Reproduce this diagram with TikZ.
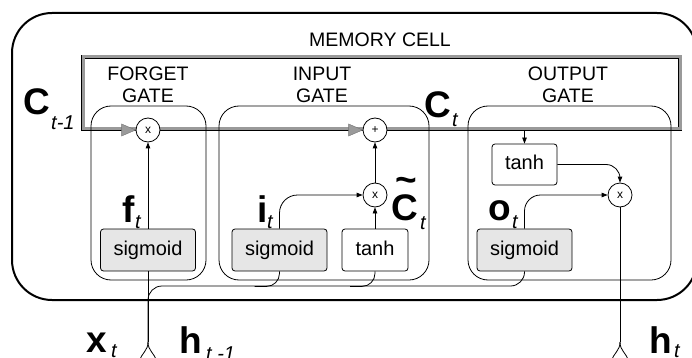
\documentclass[tikz,border=0pt]{standalone}
\usepackage{fontspec}
\setmainfont{Liberation Sans}
\usetikzlibrary{arrows.meta,calc}
\definecolor{sigfill}{HTML}{E6E6E6}
\definecolor{cellgray}{HTML}{9A9A9A}

\begin{document}
\begin{tikzpicture}[x=1pt,y=-1pt,
  conn/.style={line width=0.8pt},
  arr/.style={-{Triangle[length=6pt,width=4.5pt]}},
  cellborder/.style={draw=black,line width=0.9pt,double=cellgray,double distance=3pt},
  gatebox/.style={draw,line width=0.8pt,rounded corners=20,inner sep=0,fill=none},
  hdr/.style={font=\fontsize{19.5}{22}\selectfont,align=center,inner sep=0},
  fnbox/.style={draw,line width=0.8pt,rounded corners=3,inner sep=0,
    text height=14,text depth=4,font=\fontsize{20}{20}\selectfont},
  sigbox/.style={fnbox,fill=sigfill,minimum width=95,minimum height=42},
  tanhbox/.style={fnbox,fill=white,minimum width=66,minimum height=42},
  op/.style={circle,draw,fill=white,line width=0.8pt,minimum size=24,inner sep=0,
    font=\fontsize{12}{12}\selectfont},
  bigl/.style={font=\fontsize{37}{37}\selectfont\bfseries,inner sep=0,anchor=base west},
  subl/.style={font=\fontsize{20}{20}\selectfont\itshape,inner sep=0,anchor=base west},
  cellarrow/.style={fill=cellgray,draw=black!55,line width=0.4pt}
]
\useasboundingbox (0,0) rectangle (692,358);
\begin{scope}
\clip (0,0) rectangle (692,358);

% outer frame
\draw[line width=2pt,rounded corners=40] (12,13) rectangle (697,300);

% memory cell (its lower edge carries the cell state)
\draw[cellborder] (83,57) rectangle (680,129);
\node[hdr] (mclabel) at (380,40) {MEMORY CELL};

% gates
\node[gatebox,minimum width=115,minimum height=174] (fgate) at (148.5,193) {};
\node[gatebox,minimum width=210,minimum height=174] (igate) at (324,193) {};
\node[gatebox,minimum width=203,minimum height=174] (ogate) at (569.5,193) {};
\node[hdr] (fhdr) at (148,85) {FORGET\\GATE};
\node[hdr] (ihdr) at (322,85) {INPUT\\GATE};
\node[hdr] (ohdr) at (568,85) {OUTPUT\\GATE};

% pointwise operations
\node[op] (fx) at (148,130) {x};
\node[op] (plus) at (375,130) {+};
\node[op] (ix) at (375,195) {x};
\node[op] (ox) at (620,195) {x};

% gray heads of the cell state line
\fill[cellarrow] ($(fx.west)+(-14,-6)$) -- (fx.west) -- ($(fx.west)+(-14,6)$) -- cycle;
\fill[cellarrow] ($(plus.west)+(-14,-6)$) -- (plus.west) -- ($(plus.west)+(-14,6)$) -- cycle;

% activation boxes
\node[sigbox] (fsig) at (148,250) {sigmoid};
\node[sigbox] (isig) at (279.5,250) {sigmoid};
\node[tanhbox] (itanh) at (375,250) {tanh};
\node[sigbox] (osig) at (524.5,250) {sigmoid};
\node[tanhbox,minimum width=65,minimum height=41] (otanh) at (524.5,164.5) {tanh};

% inputs x_t and h_{t-1} joined below the frame
\coordinate (jx) at (148,342);
\coordinate (jxl) at (139,362);
\coordinate (jxr) at (157,362);
\draw[conn] (jx) .. controls (148,351) and (142,352) .. (jxl);
\draw[conn] (jx) .. controls (148,351) and (154,352) .. (jxr);
\draw[conn] (jx) -- (fsig.south);
\draw[conn,rounded corners=14] (jx) |- (osig.south |- 0,286) -- (osig.south);
\draw[conn,rounded corners=13] ($(isig.south)+(-25,15)$) -| (isig.south);
\draw[conn,rounded corners=13] ($(itanh.south)+(-25,15)$) -| (itanh.south);

% forget gate
\draw[conn,arr] (fsig.north) -- (fx.south);

% input gate
\draw[conn,arr,rounded corners=18] (isig.north) |- (ix.west);
\draw[conn,arr] (itanh.north) -- (ix.south);
\draw[conn,arr] (ix.north) -- (plus.south);

% output gate
\coordinate (ctap) at (524.5,131.5);
\draw[conn,arr] (ctap) -- (otanh.north);
\draw[conn,arr,rounded corners=14] (otanh.east) -| (ox.north);
\draw[conn,arr,rounded corners=16] (osig.north) |- (ox.west);

% output h_t
\coordinate (jo) at (620,342);
\coordinate (jol) at (611,362);
\coordinate (jor) at (629,362);
\draw[conn] (ox.south) -- (jo);
\draw[conn] (jo) .. controls (620,351) and (614,352) .. (jol);
\draw[conn] (jo) .. controls (620,351) and (626,352) .. (jor);

% labels
\node[bigl] (lCp) at (23.5,115) {C};
\node[subl] (lCps) at (51,130) {t-1};
\node[bigl] (lCt) at (424.5,118) {C};
\node[subl] (lCts) at (452,127) {t};
\node[bigl] (lf) at (122,222) {f};
\node[subl] (lfs) at (135,228) {t};
\node[bigl] (li) at (257.5,222) {i};
\node[subl] (lis) at (267,228) {t};
\node[bigl] (lCc) at (391.5,220) {C};
\node[font=\fontsize{37}{37}\selectfont\bfseries,inner sep=0] (lCctilde) at (406,185) {\char"7E};
\node[subl] (lCcs) at (420,229) {t};
\node[bigl] (lo) at (488.5,220) {o};
\node[subl] (los) at (512,228) {t};
\node[bigl] (lx) at (86.5,352) {x};
\node[subl] (lxs) at (111,357) {t};
\node[bigl] (lh) at (179.5,353) {h};
\node[subl] (lhs) at (206,360) {t -1};
\node[bigl] (lht) at (649.5,353) {h};
\node[subl] (lhts) at (674,357) {t};
\end{scope}
\end{tikzpicture}
\end{document}
